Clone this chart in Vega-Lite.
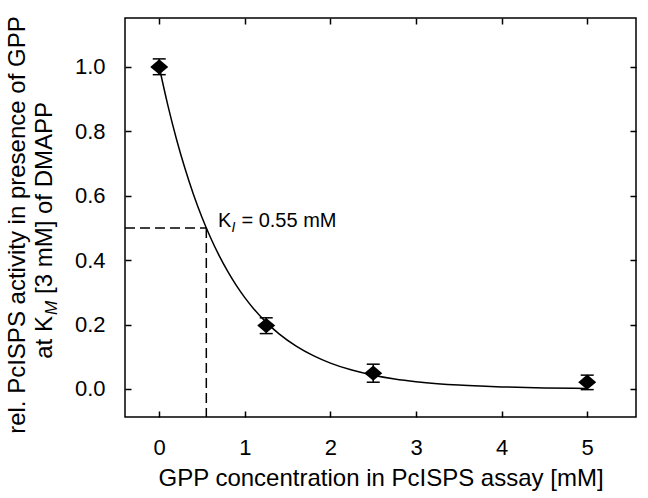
{
  "$schema": "https://vega.github.io/schema/vega-lite/v6.json",
  "width": 511,
  "height": 399,
  "autosize": {"type": "none"},
  "padding": {"left": 125, "top": 18, "right": 12, "bottom": 81},
  "background": "white",
  "config": {
    "view": {"stroke": "black", "strokeWidth": 1.5},
    "font": "Liberation Sans",
    "axis": {
      "domain": false, "grid": false,
      "tickColor": "black", "tickWidth": 1.5, "tickSize": -6,
      "labelColor": "black", "labelFont": "Liberation Sans", "labelFontSize": 22,
      "titleFont": "Liberation Sans", "titleFontSize": 24, "titleFontWeight": "normal", "titleColor": "black"
    }
  },
  "datasets": {
    "curve": [
      {"x": 0, "y": 1.0}, {"x": 0.1, "y": 0.8816}, {"x": 0.2, "y": 0.7772}, {"x": 0.3, "y": 0.6852},
      {"x": 0.4, "y": 0.6041}, {"x": 0.5, "y": 0.5325}, {"x": 0.6, "y": 0.4695}, {"x": 0.7, "y": 0.4139},
      {"x": 0.8, "y": 0.3649}, {"x": 0.9, "y": 0.3217}, {"x": 1.0, "y": 0.2836}, {"x": 1.1, "y": 0.25},
      {"x": 1.25, "y": 0.2069}, {"x": 1.4, "y": 0.1713}, {"x": 1.6, "y": 0.1331}, {"x": 1.8, "y": 0.1035},
      {"x": 2.0, "y": 0.0804}, {"x": 2.25, "y": 0.0587}, {"x": 2.5, "y": 0.0428}, {"x": 2.75, "y": 0.0312},
      {"x": 3.0, "y": 0.0228}, {"x": 3.25, "y": 0.0166}, {"x": 3.5, "y": 0.0121}, {"x": 3.75, "y": 0.0089},
      {"x": 4.0, "y": 0.0065}, {"x": 4.5, "y": 0.0034}, {"x": 5.0, "y": 0.0018}
    ],
    "pts": [
      {"x": 0, "y": 1.0, "lo": 0.976, "hi": 1.025},
      {"x": 1.25, "y": 0.197, "lo": 0.172, "hi": 0.221},
      {"x": 2.5, "y": 0.049, "lo": 0.021, "hi": 0.077},
      {"x": 5, "y": 0.021, "lo": -0.002, "hi": 0.043}
    ],
    "ki": [
      {"x": -0.4, "x2": 0.55, "y": 0.5, "y2": 0.5},
      {"x": 0.55, "x2": 0.55, "y": 0.5, "y2": -0.087}
    ]
  },
  "layer": [
    {
      "data": {"name": "curve"},
      "mark": {"type": "line", "color": "black", "strokeWidth": 1.5, "interpolate": "monotone"},
      "encoding": {
        "x": {"field": "x", "type": "quantitative",
              "scale": {"domain": [-0.4, 5.57], "nice": false, "zero": false},
              "axis": {"values": [0, 1, 2, 3, 4, 5], "title": "GPP concentration in PcISPS assay [mM]", "labelPadding": 26, "titlePadding": 8}},
        "y": {"field": "y", "type": "quantitative",
              "scale": {"domain": [-0.087, 1.152], "nice": false, "zero": false},
              "axis": {"values": [0, 0.2, 0.4, 0.6, 0.8, 1.0], "format": ".1f", "title": null, "labelPadding": 26}}
      }
    },
    {
      "data": {"name": "pts"},
      "mark": {"type": "point", "opacity": 0},
      "encoding": {
        "x": {"field": "x", "type": "quantitative", "axis": {"orient": "top", "values": [0, 1, 2, 3, 4, 5], "labels": false, "title": null}},
        "y": {"field": "y", "type": "quantitative", "axis": {"orient": "right", "values": [0, 0.2, 0.4, 0.6, 0.8, 1.0], "labels": false, "title": null}}
      }
    },
    {
      "data": {"name": "ki"},
      "mark": {"type": "rule", "color": "black", "strokeWidth": 1.5, "strokeDash": [10, 5]},
      "encoding": {
        "x": {"field": "x", "type": "quantitative", "axis": null},
        "x2": {"field": "x2"},
        "y": {"field": "y", "type": "quantitative", "axis": null},
        "y2": {"field": "y2"}
      }
    },
    {
      "data": {"name": "pts"},
      "mark": {"type": "rule", "color": "black", "strokeWidth": 1.5},
      "encoding": {
        "x": {"field": "x", "type": "quantitative", "axis": null},
        "y": {"field": "lo", "type": "quantitative", "axis": null},
        "y2": {"field": "hi"}
      }
    },
    {
      "data": {"name": "pts"},
      "mark": {"type": "tick", "orient": "horizontal", "color": "black", "size": 13, "thickness": 1.5, "opacity": 1},
      "encoding": {
        "x": {"field": "x", "type": "quantitative", "axis": null},
        "y": {"field": "lo", "type": "quantitative", "axis": null}
      }
    },
    {
      "data": {"name": "pts"},
      "mark": {"type": "tick", "orient": "horizontal", "color": "black", "size": 13, "thickness": 1.5, "opacity": 1},
      "encoding": {
        "x": {"field": "x", "type": "quantitative", "axis": null},
        "y": {"field": "hi", "type": "quantitative", "axis": null}
      }
    },
    {
      "data": {"name": "pts"},
      "mark": {"type": "point", "shape": "M-1,0L0,-0.85L1,0L0,0.85Z", "size": 324, "filled": true, "color": "black", "opacity": 1},
      "encoding": {
        "x": {"field": "x", "type": "quantitative", "axis": null},
        "y": {"field": "y", "type": "quantitative", "axis": null}
      }
    },
    {
      "data": {"values": [{"t": "K"}]},
      "mark": {"type": "text", "align": "left", "baseline": "alphabetic", "fontSize": 20, "color": "black", "font": "Liberation Sans"},
      "encoding": {
        "x": {"datum": 0.686, "type": "quantitative", "axis": null},
        "y": {"datum": 0.503, "type": "quantitative", "axis": null},
        "text": {"field": "t"}
      }
    },
    {
      "data": {"values": [{"t": "I"}]},
      "mark": {"type": "text", "align": "left", "baseline": "alphabetic", "fontSize": 14, "fontStyle": "italic", "dx": 13.5, "dy": 5, "color": "black", "font": "Liberation Sans"},
      "encoding": {
        "x": {"datum": 0.686, "type": "quantitative", "axis": null},
        "y": {"datum": 0.503, "type": "quantitative", "axis": null},
        "text": {"field": "t"}
      }
    },
    {
      "data": {"values": [{"t": "= 0.55 mM"}]},
      "mark": {"type": "text", "align": "left", "baseline": "alphabetic", "fontSize": 20, "dx": 23.5, "color": "black", "font": "Liberation Sans"},
      "encoding": {
        "x": {"datum": 0.686, "type": "quantitative", "axis": null},
        "y": {"datum": 0.503, "type": "quantitative", "axis": null},
        "text": {"field": "t"}
      }
    },
    {
      "data": {"values": [{"t": "rel. PcISPS activity in presence of GPP"}]},
      "mark": {"type": "text", "align": "center", "baseline": "alphabetic", "angle": 270, "fontSize": 24, "color": "black", "font": "Liberation Sans"},
      "encoding": {
        "x": {"datum": -1.568, "type": "quantitative", "axis": null},
        "y": {"datum": 0.509, "type": "quantitative", "axis": null},
        "text": {"field": "t"}
      }
    },
    {
      "data": {"values": [{"t": "at K"}]},
      "mark": {"type": "text", "align": "right", "baseline": "alphabetic", "angle": 270, "fontSize": 24, "color": "black", "font": "Liberation Sans"},
      "encoding": {
        "x": {"datum": -1.253, "type": "quantitative", "axis": null},
        "y": {"datum": 0.2265, "type": "quantitative", "axis": null},
        "text": {"field": "t"}
      }
    },
    {
      "data": {"values": [{"t": "M"}]},
      "mark": {"type": "text", "align": "left", "baseline": "alphabetic", "angle": 270, "fontSize": 17, "fontStyle": "italic", "dx": 1, "dy": 5, "color": "black", "font": "Liberation Sans"},
      "encoding": {
        "x": {"datum": -1.253, "type": "quantitative", "axis": null},
        "y": {"datum": 0.2265, "type": "quantitative", "axis": null},
        "text": {"field": "t"}
      }
    },
    {
      "data": {"values": [{"t": "[3 mM] of DMAPP"}]},
      "mark": {"type": "text", "align": "left", "baseline": "alphabetic", "angle": 270, "fontSize": 24, "dx": 22, "color": "black", "font": "Liberation Sans"},
      "encoding": {
        "x": {"datum": -1.253, "type": "quantitative", "axis": null},
        "y": {"datum": 0.2265, "type": "quantitative", "axis": null},
        "text": {"field": "t"}
      }
    }
  ],
  "resolve": {"axis": {"x": "independent", "y": "independent"}}
}
